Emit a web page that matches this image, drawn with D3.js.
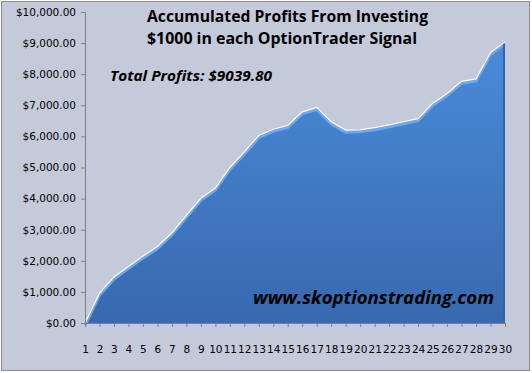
<!DOCTYPE html>
<html>
<head>
<meta charset="utf-8">
<script src="https://cdn.jsdelivr.net/npm/d3@7"></script>
<style>
  body { margin: 0; background: #fff; }
  svg text { font-family: "DejaVu Sans", sans-serif; }
</style>
</head>
<body>
<div id="chart"></div>
<script>
// signal number and running total of profits
const signals = d3.range(1, 31);
const profits = [0, 960, 1480, 1820, 2150, 2460, 2900, 3460, 4010, 4340,
  5000, 5500, 6030, 6230, 6350, 6790, 6935, 6470, 6200, 6210,
  6280, 6370, 6470, 6570, 7060, 7380, 7770, 7850, 8700, 9039.8];
const yTicks = d3.range(0, 10001, 1000);

const width = 532, height = 373;
const margin = { top: 12, right: 27, bottom: 50, left: 85 };

const svg = d3.select("#chart")
  .append("svg")
  .attr("width", width)
  .attr("height", height);

svg.append("rect")
  .attr("x", 1.5).attr("y", 1.5)
  .attr("width", width - 4).attr("height", height - 4)
  .attr("fill", "#c5cadb")
  .attr("stroke", "#8c8c8c");

const x = d3.scalePoint()
  .domain(signals)
  .range([margin.left, width - margin.right]);

const y = d3.scaleLinear()
  .domain([0, 10000])
  .range([height - margin.bottom, margin.top]);

const defs = svg.append("defs");
const grad = defs.append("linearGradient")
  .attr("id", "fill")
  .attr("x1", 0).attr("y1", 0).attr("x2", 0).attr("y2", 1);
grad.append("stop").attr("offset", "0%").attr("stop-color", "#4a8bda");
grad.append("stop").attr("offset", "100%").attr("stop-color", "#3869ae");

const area = d3.area()
  .x((d, i) => x(signals[i]))
  .y0(y(0))
  .y1(d => y(d));

const line = d3.line()
  .x((d, i) => x(signals[i]))
  .y(d => y(d));

svg.append("path")
  .datum(profits)
  .attr("d", area)
  .attr("fill", "url(#fill)");

// bevel highlight along the top edge
svg.append("path")
  .datum(profits)
  .attr("d", line)
  .attr("transform", "translate(0,2)")
  .attr("fill", "none")
  .attr("stroke", "#6fa8ec")
  .attr("stroke-width", 3);

svg.append("path")
  .datum(profits)
  .attr("d", line)
  .attr("fill", "none")
  .attr("stroke", "#ffffff")
  .attr("stroke-width", 1.2);

// right edge shade
svg.append("line")
  .attr("x1", x(30) - 1).attr("x2", x(30) - 1)
  .attr("y1", y(profits[29]) + 2).attr("y2", y(0))
  .attr("stroke", "#3563a3").attr("stroke-width", 2);

// axes
const yAxis = d3.axisLeft(y)
  .tickValues(yTicks)
  .tickSize(4)
  .tickFormat(d => "$" + d3.format(",.2f")(d));

const gy = svg.append("g")
  .attr("transform", `translate(${margin.left},0)`)
  .call(yAxis);

const xAxis = d3.axisBottom(x)
  .tickSize(4)
  .tickPadding(19);

const gx = svg.append("g")
  .attr("transform", `translate(0,${y(0)})`)
  .call(xAxis);

[gx, gy].forEach(g => {
  g.select(".domain").attr("stroke", "#808080");
  g.selectAll(".tick line").attr("stroke", "#808080");
  g.selectAll(".tick text")
    .attr("fill", "#000")
    .style("font-family", "'DejaVu Sans', sans-serif")
    .style("font-size", "10.5px");
});
gy.selectAll(".tick text").attr("x", -9);

// titles
svg.append("text")
  .attr("x", 147).attr("y", 22)
  .attr("font-size", 16).attr("font-weight", "bold")
  .attr("textLength", 281).attr("lengthAdjust", "spacingAndGlyphs")
  .style("font-family", "'Open Sans', sans-serif")
  .text("Accumulated Profits From Investing");

svg.append("text")
  .attr("x", 147).attr("y", 44)
  .attr("font-size", 16).attr("font-weight", "bold")
  .attr("textLength", 270).attr("lengthAdjust", "spacingAndGlyphs")
  .style("font-family", "'Open Sans', sans-serif")
  .text("$1000 in each OptionTrader Signal");

svg.append("text")
  .attr("x", 110).attr("y", 81)
  .attr("font-size", 15).attr("font-weight", "bold").attr("font-style", "italic")
  .attr("textLength", 162).attr("lengthAdjust", "spacingAndGlyphs")
  .style("font-family", "'Open Sans', sans-serif")
  .text("Total Profits: $9039.80");

svg.append("text")
  .attr("x", 253).attr("y", 304)
  .attr("font-size", 17).attr("font-weight", "bold").attr("font-style", "italic")
  .attr("textLength", 241).attr("lengthAdjust", "spacingAndGlyphs")
  .style("font-family", "'Open Sans', sans-serif")
  .text("www.skoptionstrading.com");
</script>
</body>
</html>
